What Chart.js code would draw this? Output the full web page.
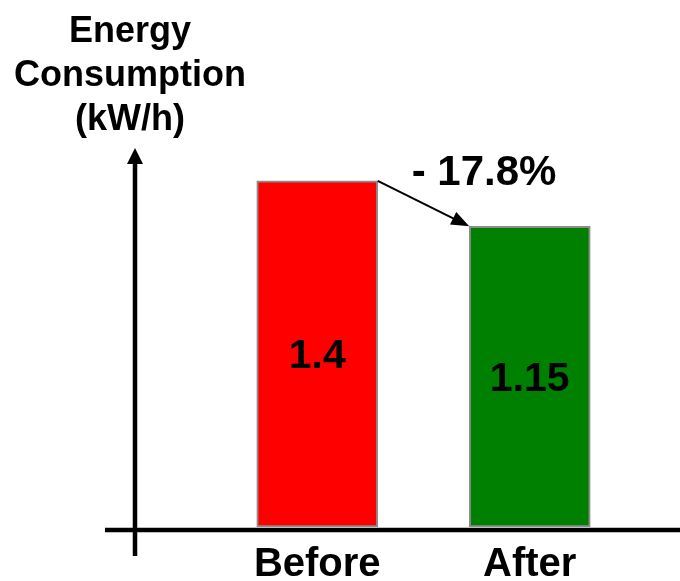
<!DOCTYPE html>
<html>
<head>
<meta charset="utf-8">
<script src="https://cdn.jsdelivr.net/npm/chart.js@4/dist/chart.umd.min.js"></script>
<style>
  html, body { margin: 0; padding: 0; background: #fff; }
  #wrap { width: 680px; height: 581px; }
</style>
</head>
<body>
<div id="wrap"><canvas id="energy"></canvas></div>
<script>
const categories = ["Before", "After"];
const consumption = [1.4, 1.15];
const changeLabel = "- 17.8%";
const titleLines = ["Energy", "Consumption", "(kW/h)"];
const barColors = ["#ff0000", "#008000"];
const axisMin = -0.5;
const axisMax = 1.58;

Chart.defaults.font.family = "'Liberation Sans', Arial, sans-serif";
Chart.defaults.color = "#000";

// axes with arrow, title, value labels and the change arrow
const extras = {
  id: "extras",
  afterDatasetsDraw(chart) {
    const ctx = chart.ctx;
    const area = chart.chartArea;
    const bars = chart.getDatasetMeta(0).data;
    const axisX = area.left - 76;
    const axisY = area.bottom + 3;
    ctx.save();

    // x axis
    ctx.strokeStyle = "#000";
    ctx.lineWidth = 4.5;
    ctx.beginPath();
    ctx.moveTo(area.left - 106, axisY);
    ctx.lineTo(chart.width, axisY);
    ctx.stroke();

    // y axis with arrow head
    const tipY = area.top;
    ctx.beginPath();
    ctx.moveTo(axisX, axisY + 26);
    ctx.lineTo(axisX, tipY + 12);
    ctx.stroke();
    ctx.fillStyle = "#000";
    ctx.beginPath();
    ctx.moveTo(axisX, tipY);
    ctx.lineTo(axisX - 8, tipY + 16);
    ctx.lineTo(axisX + 8, tipY + 16);
    ctx.closePath();
    ctx.fill();

    // title
    ctx.font = "bold 36px 'Liberation Sans', Arial, sans-serif";
    ctx.textAlign = "center";
    ctx.textBaseline = "alphabetic";
    titleLines.forEach((t, i) => {
      ctx.fillText(t, axisX - 5, tipY - 18 - (titleLines.length - 1 - i) * 44);
    });

    // value labels
    ctx.font = "bold 41px 'Liberation Sans', Arial, sans-serif";
    ctx.textBaseline = "middle";
    bars.forEach((b, i) => {
      ctx.fillText(String(consumption[i]), b.x, (b.y + b.base) / 2 + 3);
    });

    // change arrow
    const a = bars[0], c = bars[1];
    const x1 = a.x + a.width / 2, y1 = a.y;
    const x2 = c.x - c.width / 2, y2 = c.y;
    const ang = Math.atan2(y2 - y1, x2 - x1);
    ctx.lineWidth = 2;
    ctx.beginPath();
    ctx.moveTo(x1, y1);
    ctx.lineTo(x2 - 14 * Math.cos(ang), y2 - 14 * Math.sin(ang));
    ctx.stroke();
    ctx.beginPath();
    ctx.moveTo(x2, y2);
    ctx.lineTo(x2 - 18 * Math.cos(ang) + 7 * Math.sin(ang), y2 - 18 * Math.sin(ang) - 7 * Math.cos(ang));
    ctx.lineTo(x2 - 18 * Math.cos(ang) - 7 * Math.sin(ang), y2 - 18 * Math.sin(ang) + 7 * Math.cos(ang));
    ctx.closePath();
    ctx.fill();

    ctx.font = "bold 42px 'Liberation Sans', Arial, sans-serif";
    ctx.textBaseline = "alphabetic";
    ctx.fillText(changeLabel, (x1 + c.x + c.width / 2) / 2, y1 + 4);

    ctx.restore();
  }
};

new Chart(document.getElementById("energy"), {
  type: "bar",
  data: {
    labels: categories,
    datasets: [{
      data: consumption,
      base: axisMin,
      backgroundColor: barColors,
      borderColor: "#8c8c8c",
      borderWidth: 2,
      borderSkipped: false,
      barThickness: 121
    }]
  },
  options: {
    responsive: true,
    maintainAspectRatio: false,
    animation: false,
    layout: { padding: { top: 148, left: 211, right: 44, bottom: 0 } },
    plugins: {
      legend: { display: false },
      tooltip: { enabled: false }
    },
    scales: {
      x: {
        grid: { display: false, drawTicks: false },
        border: { display: false },
        ticks: { font: { size: 40, weight: "bold" }, padding: 14, color: "#000" },
        afterFit: s => { s.height = 54; }
      },
      y: {
        display: false,
        min: axisMin,
        max: axisMax
      }
    }
  },
  plugins: [extras]
});
</script>
</body>
</html>
